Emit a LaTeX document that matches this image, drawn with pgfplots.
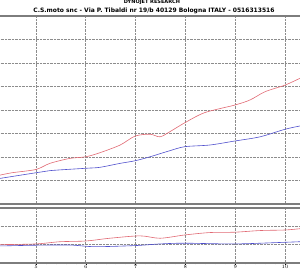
\documentclass[border=0pt]{standalone}
\usepackage{pgfplots}
\pgfplotsset{compat=1.18}
\usepackage{fontspec}
\setmainfont{DejaVu Sans}
\definecolor{redc}{RGB}{225,105,115}
\definecolor{bluec}{RGB}{80,80,205}
\definecolor{gridc}{RGB}{140,140,140}
\definecolor{framec}{RGB}{125,125,125}
\begin{document}
\begin{tikzpicture}
\useasboundingbox (0pt,0pt) rectangle (300pt,270pt);
\pgfplotsset{
  dyno/.style={
    scale only axis, width=310pt, xmin=4.177, xmax=10.401,
    xtick={5,6,7,8,9,10},
    grid=major,
    major grid style={densely dotted, gridc, line width=0.6pt},
    axis line style={framec, line width=1.1pt},
    yticklabels={}, tick style={draw=none},
  }
}
\begin{axis}[dyno, height=188pt, at={(-5pt,66pt)}, anchor=south west,
  ymin=0, ymax=8, ytick={1,...,7}, xticklabels={}]
\addplot[redc, line width=0.6pt, smooth] coordinates {
(4.18,1.18)(4.28,1.23)(4.52,1.33)(5.0,1.47)(5.28,1.73)(5.68,1.94)(6.0,2.01)(6.28,2.18)(6.69,2.51)(6.99,2.89)(7.29,2.97)(7.49,2.86)(7.69,3.08)(7.99,3.46)(8.39,3.89)(8.99,4.21)(9.30,4.43)(9.60,4.78)(10.0,5.06)(10.30,5.35)(10.40,5.45)};
\addplot[bluec, line width=0.6pt, smooth] coordinates {
(4.18,1.05)(4.28,1.09)(5.0,1.33)(5.28,1.42)(6.0,1.52)(6.28,1.56)(6.69,1.73)(6.99,1.84)(7.29,2.01)(7.69,2.27)(7.99,2.44)(8.49,2.51)(8.99,2.68)(9.50,2.86)(10.0,3.18)(10.30,3.32)(10.40,3.36)};
\end{axis}
\begin{axis}[dyno, height=55pt, at={(-5pt,7pt)}, anchor=south west,
  ymin=0, ymax=3, ytick={1,2},
  minor x tick num=4,
  xtick style={draw=black, line width=0.4pt},
  minor x tick style={draw=black, line width=0.4pt},
  major tick length=2pt, minor tick length=1.5pt,
  xtick pos=bottom, xtick align=outside,
  xticklabel style={font=\fontsize{4.5}{4.5}\selectfont, inner sep=0pt, yshift=0.3pt}]
\addplot[redc, line width=0.6pt, smooth] coordinates {
(4.18,0.98)(4.28,1.0)(5.0,1.04)(5.48,1.16)(6.0,1.2)(6.48,1.35)(7.09,1.48)(7.49,1.35)(7.99,1.53)(8.49,1.66)(8.99,1.68)(9.50,1.77)(10.0,1.8)(10.30,1.87)(10.40,1.89)};
\addplot[bluec, line width=0.6pt, smooth] coordinates {
(4.18,0.93)(4.28,0.93)(5.0,0.97)(5.68,0.98)(6.18,0.89)(6.99,0.95)(7.49,1.04)(7.99,1.08)(8.99,1.04)(10.0,1.13)(10.30,1.16)(10.40,1.17)};
\end{axis}
\node[font=\fontsize{5}{5}\selectfont\bfseries, anchor=center] at (152pt,267.5pt) {DYNOJET RESEARCH};
\node[font=\fontsize{6}{6}\selectfont\bfseries, anchor=center] at (154pt,259.5pt) {C.S.moto snc - Via P. Tibaldi nr 19/b 40129 Bologna ITALY - 0516313516};
\end{tikzpicture}
\end{document}
